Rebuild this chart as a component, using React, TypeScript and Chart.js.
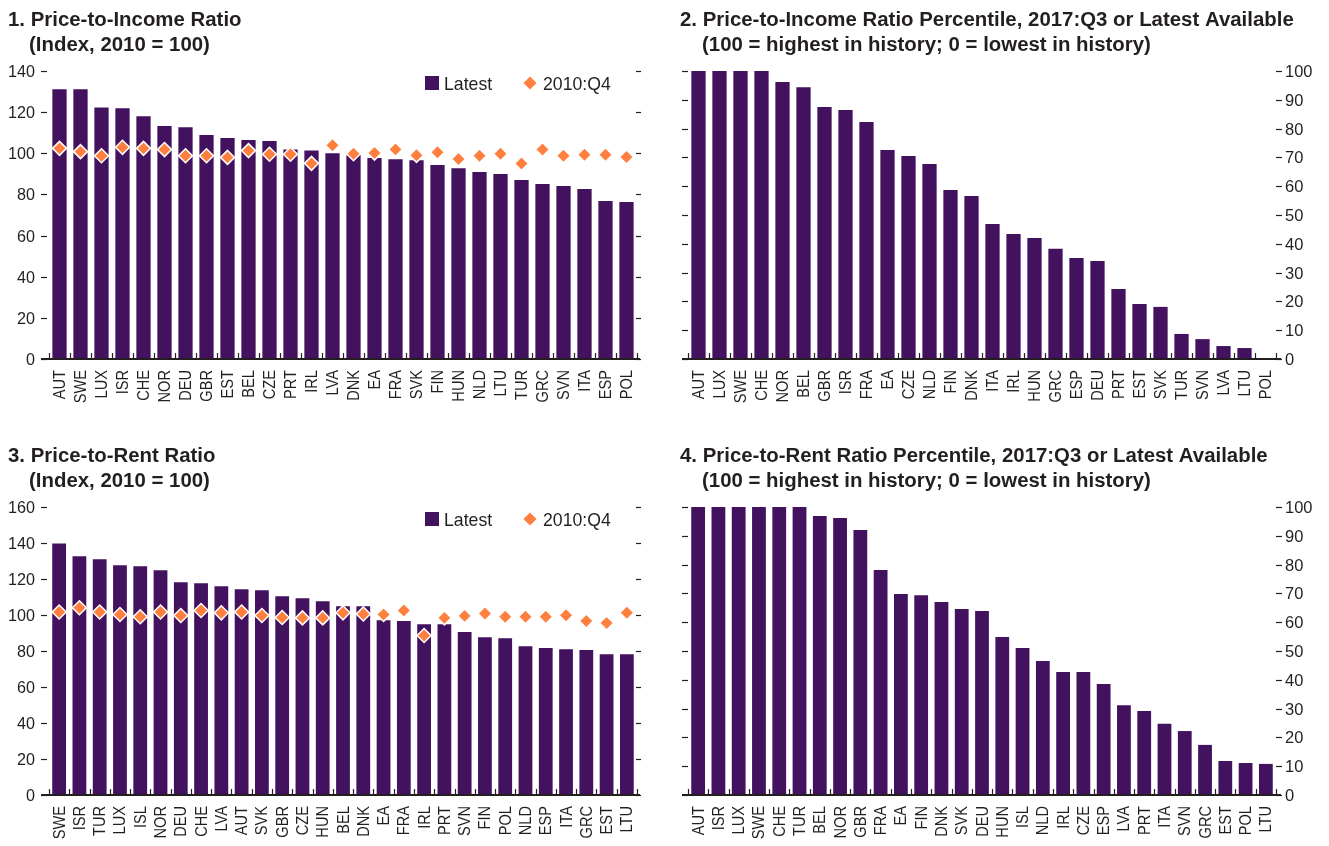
import React, { useEffect, useRef } from 'react';
import { Chart, registerables } from 'chart.js';

Chart.register(...registerables);

const FONT = "'Liberation Sans', Arial, 'DejaVu Sans', sans-serif";
const TEXT = '#231F20';
const PURPLE = '#43125F';
const ORANGE = '#FF7F3F';

// Panel 1: Price-to-Income Ratio (Index, 2010 = 100)
const p1Categories = ['AUT', 'SWE', 'LUX', 'ISR', 'CHE', 'NOR', 'DEU', 'GBR', 'EST', 'BEL', 'CZE', 'PRT', 'IRL', 'LVA', 'DNK', 'EA', 'FRA', 'SVK', 'FIN', 'HUN', 'NLD', 'LTU', 'TUR', 'GRC', 'SVN', 'ITA', 'ESP', 'POL'];
const p1Latest = [131.1, 131.1, 122.3, 121.9, 118.0, 113.3, 112.6, 108.9, 107.4, 106.5, 106.0, 101.9, 101.4, 100.0, 99.0, 97.7, 97.1, 96.6, 94.3, 92.7, 90.9, 89.9, 87.0, 85.1, 84.1, 82.6, 76.8, 76.3];
const p1Q4 = [102.4, 100.8, 98.8, 102.9, 102.4, 101.8, 98.8, 98.8, 98.0, 101.3, 99.5, 99.5, 95.1, 103.9, 99.8, 100.1, 101.9, 99.0, 100.5, 97.2, 98.8, 99.8, 95.0, 101.8, 98.8, 99.3, 99.3, 98.2];

// Panel 2: Price-to-Income Ratio Percentile
const p2Categories = ['AUT', 'LUX', 'SWE', 'CHE', 'NOR', 'BEL', 'GBR', 'ISR', 'FRA', 'EA', 'CZE', 'NLD', 'FIN', 'DNK', 'ITA', 'IRL', 'HUN', 'GRC', 'ESP', 'DEU', 'PRT', 'EST', 'SVK', 'TUR', 'SVN', 'LVA', 'LTU', 'POL'];
const p2Values = [100, 100, 100, 100, 96.2, 94.4, 87.5, 86.5, 82.3, 72.6, 70.5, 67.7, 58.7, 56.6, 46.9, 43.4, 42.0, 38.3, 35.1, 34.0, 24.3, 19.1, 18.1, 8.7, 6.9, 4.5, 3.8, 0];

// Panel 3: Price-to-Rent Ratio (Index, 2010 = 100)
const p3Categories = ['SWE', 'ISR', 'TUR', 'LUX', 'ISL', 'NOR', 'DEU', 'CHE', 'LVA', 'AUT', 'SVK', 'GBR', 'CZE', 'HUN', 'BEL', 'DNK', 'EA', 'FRA', 'IRL', 'PRT', 'SVN', 'FIN', 'POL', 'NLD', 'ESP', 'ITA', 'GRC', 'EST', 'LTU'];
const p3Latest = [139.7, 132.6, 131.0, 127.6, 127.1, 124.9, 118.2, 117.6, 116.0, 114.3, 113.8, 110.4, 109.3, 107.7, 104.9, 104.9, 97.1, 96.6, 94.9, 94.9, 90.5, 87.7, 87.1, 82.7, 81.6, 81.0, 80.5, 78.2, 78.2];
const p3Q4 = [101.7, 104.0, 101.7, 100.3, 99.0, 101.7, 99.7, 102.5, 101.2, 101.7, 99.7, 98.6, 98.4, 98.4, 101.2, 100.6, 100.3, 102.5, 88.6, 98.4, 99.5, 100.8, 99.0, 99.0, 99.0, 99.9, 96.7, 95.6, 101.2];

// Panel 4: Price-to-Rent Ratio Percentile
const p4Categories = ['AUT', 'ISR', 'LUX', 'SWE', 'CHE', 'TUR', 'BEL', 'NOR', 'GBR', 'FRA', 'EA', 'FIN', 'DNK', 'SVK', 'DEU', 'HUN', 'ISL', 'NLD', 'IRL', 'CZE', 'ESP', 'LVA', 'PRT', 'ITA', 'SVN', 'GRC', 'EST', 'POL', 'LTU'];
const p4Values = [100, 100, 100, 100, 100, 100, 96.9, 96.2, 92.0, 78.1, 69.8, 69.4, 67.0, 64.6, 63.9, 54.9, 51.0, 46.5, 42.7, 42.7, 38.5, 31.2, 29.2, 24.7, 22.2, 17.4, 11.8, 11.1, 10.8];

const legendLabels = ['Latest', '2010:Q4'];
const indexTicks = { p1Max: 140, p3Max: 160, step: 20 };
const pctTicks = { max: 100, step: 10 };

type Panel = {
  left: number; top: number; width: number; height: number;
  area: { l: number; r: number; t: number; b: number };
  title: [string, string];
  titleX: [number, number];
  labelSide: 'left' | 'right';
  categories: string[];
  bars: number[];
  diamonds?: number[];
  max: number; step: number;
  leftTick: [number, number];
  rightTick: [number, number];
  baseExt: [number, number];
};

const panels: Panel[] = [
  {
    left: 0, top: 0, width: 664, height: 436,
    area: { l: 49, r: 637, t: 71, b: 359 },
    title: ['1. Price-to-Income Ratio', '(Index, 2010 = 100)'], titleX: [8, 29],
    labelSide: 'left', categories: p1Categories, bars: p1Latest, diamonds: p1Q4,
    max: indexTicks.p1Max, step: indexTicks.step,
    leftTick: [-8, -2], rightTick: [-1, 4], baseExt: [-8, 3],
  },
  {
    left: 664, top: 0, width: 665, height: 436,
    area: { l: 24, r: 612, t: 71, b: 359 },
    title: ['2. Price-to-Income Ratio Percentile, 2017:Q3 or Latest Available', '(100 = highest in history; 0 = lowest in history)'], titleX: [16, 38],
    labelSide: 'right', categories: p2Categories, bars: p2Values,
    max: pctTicks.max, step: pctTicks.step,
    leftTick: [-6, 0], rightTick: [0, 6], baseExt: [-6, 5],
  },
  {
    left: 0, top: 436, width: 664, height: 410,
    area: { l: 49, r: 637, t: 71, b: 359 },
    title: ['3. Price-to-Rent Ratio', '(Index, 2010 = 100)'], titleX: [8, 29],
    labelSide: 'left', categories: p3Categories, bars: p3Latest, diamonds: p3Q4,
    max: indexTicks.p3Max, step: indexTicks.step,
    leftTick: [-8, -2], rightTick: [-1, 4], baseExt: [-8, 3],
  },
  {
    left: 664, top: 436, width: 665, height: 410,
    area: { l: 24, r: 612, t: 71, b: 359 },
    title: ['4. Price-to-Rent Ratio Percentile, 2017:Q3 or Latest Available', '(100 = highest in history; 0 = lowest in history)'], titleX: [16, 38],
    labelSide: 'right', categories: p4Categories, bars: p4Values,
    max: pctTicks.max, step: pctTicks.step,
    leftTick: [-6, 0], rightTick: [0, 6], baseExt: [-6, 5],
  },
];

function line(ctx: CanvasRenderingContext2D, x1: number, y1: number, x2: number, y2: number) {
  ctx.beginPath();
  ctx.moveTo(x1, y1);
  ctx.lineTo(x2, y2);
  ctx.stroke();
}

// Draw text with a horizontal scale factor (narrow face emulation)
function text(
  ctx: CanvasRenderingContext2D, s: string, x: number, y: number,
  font: string, sx: number, align: CanvasTextAlign, baseline: CanvasTextBaseline, rot = 0,
) {
  ctx.save();
  ctx.translate(x, y);
  if (rot) ctx.rotate(rot);
  ctx.scale(sx, 1);
  ctx.font = font;
  ctx.textAlign = align;
  ctx.textBaseline = baseline;
  ctx.fillStyle = TEXT;
  ctx.fillText(s, 0, 0);
  ctx.restore();
}

const TITLE_FONT = `bold 20px ${FONT}`;
const TICK_FONT = `17px ${FONT}`;
const CAT_FONT = `17px ${FONT}`;
const LEG_FONT = `19px ${FONT}`;

function makeDecor(p: Panel) {
  return {
    id: 'decor',
    afterDraw(chart: any) {
      const ctx: CanvasRenderingContext2D = chart.ctx;
      const { left: L, right: R, bottom: B } = chart.chartArea;
      const ys = chart.scales.y;
      const xs = chart.scales.x;
      ctx.save();
      ctx.strokeStyle = TEXT;
      // titles
      text(ctx, p.title[0], p.titleX[0], 26, TITLE_FONT, 1.02, 'left', 'alphabetic');
      text(ctx, p.title[1], p.titleX[1], 51, TITLE_FONT, 1.02, 'left', 'alphabetic');
      // y tick marks both sides + labels
      ctx.lineWidth = 1.2;
      for (let v = 0; v <= p.max; v += p.step) {
        const yp = ys.getPixelForValue(v);
        const y = Math.round(yp) + 0.5;
        line(ctx, L + p.leftTick[0], y, L + p.leftTick[1], y);
        line(ctx, R + p.rightTick[0], y, R + p.rightTick[1], y);
        if (p.labelSide === 'left') {
          text(ctx, String(v), L - 14, yp + 6, TICK_FONT, 0.95, 'right', 'alphabetic');
        } else {
          text(ctx, String(v), R + 9, yp + 6, TICK_FONT, 0.97, 'left', 'alphabetic');
        }
      }
      // category labels (rotated)
      p.categories.forEach((c, i) => {
        const cx = xs.getPixelForValue(i);
        text(ctx, c, cx + 5.5, B + 11, CAT_FONT, 0.86, 'right', 'alphabetic', -Math.PI / 2);
      });
      // category boundary ticks
      const n = p.categories.length;
      ctx.lineWidth = 1.2;
      for (let i = 0; i <= n; i++) {
        const x = Math.round(L + (i * (R - L)) / n) + 0.5;
        line(ctx, x, B, x, B - 6);
      }
      // baseline
      ctx.lineWidth = 1.8;
      line(ctx, L + p.baseExt[0], B, R + p.baseExt[1], B);
      // legend
      if (p.diamonds) {
        ctx.fillStyle = PURPLE;
        ctx.fillRect(425, 76, 14, 14);
        text(ctx, legendLabels[0], 444, 89.5, LEG_FONT, 0.93, 'left', 'alphabetic');
        ctx.fillStyle = ORANGE;
        ctx.beginPath();
        ctx.moveTo(530, 76.5);
        ctx.lineTo(536.5, 83);
        ctx.lineTo(530, 89.5);
        ctx.lineTo(523.5, 83);
        ctx.closePath();
        ctx.fill();
        text(ctx, legendLabels[1], 543, 89.5, LEG_FONT, 0.93, 'left', 'alphabetic');
      }
      ctx.restore();
    },
  };
}

function makeConfig(p: Panel): any {
  const leftW = 20;
  const rightW = 20;
  const xH = p.height - p.area.b - 6;
  const datasets: any[] = [
    {
      type: 'bar',
      data: p.bars,
      backgroundColor: PURPLE,
      barPercentage: 0.68,
      categoryPercentage: 1,
      order: 2,
    },
  ];
  if (p.diamonds) {
    datasets.push({
      type: 'line',
      data: p.diamonds,
      showLine: false,
      pointStyle: 'rectRot',
      pointRadius: 7,
      pointBackgroundColor: ORANGE,
      pointBorderColor: '#FFFFFF',
      pointBorderWidth: 1.5,
      order: 1,
    });
  }
  const hiddenAxis = (max: number, step: number, w: number, pos: string) => ({
    position: pos,
    min: 0,
    max,
    grid: { display: false, drawTicks: false },
    border: { display: false },
    ticks: { display: false, stepSize: step },
    afterFit: (s: any) => { s.width = w; },
  });
  return {
    type: 'bar',
    data: { labels: p.categories, datasets },
    options: {
      animation: false,
      responsive: false,
      maintainAspectRatio: false,
      devicePixelRatio: 1,
      layout: {
        padding: {
          left: p.area.l - leftW,
          right: p.width - p.area.r - rightW,
          top: p.area.t,
          bottom: p.height - p.area.b - xH,
        },
      },
      plugins: { legend: { display: false }, tooltip: { enabled: false }, title: { display: false } },
      scales: {
        x: {
          type: 'category',
          offset: true,
          grid: { display: false, drawTicks: false },
          border: { display: false },
          ticks: { display: false, autoSkip: false },
          afterFit: (s: any) => { s.height = xH; },
        },
        y: hiddenAxis(p.max, p.step, leftW, 'left'),
        y2: hiddenAxis(p.max, p.step, rightW, 'right'),
      },
    },
    plugins: [makeDecor(p)],
  };
}

function PanelChart({ p }: { p: Panel }) {
  const ref = useRef<HTMLCanvasElement | null>(null);
  useEffect(() => {
    if (!ref.current) return;
    const chart = new Chart(ref.current, makeConfig(p));
    return () => chart.destroy();
  }, [p]);
  return (
    <div style={{ position: 'absolute', left: p.left, top: p.top, width: p.width, height: p.height }}>
      <canvas ref={ref} width={p.width} height={p.height} style={{ width: p.width, height: p.height, display: 'block' }} />
    </div>
  );
}

export default function App() {
  return (
    <div style={{ position: 'absolute', left: 0, top: 0, width: 1329, height: 846, background: '#FFFFFF', overflow: 'hidden' }}>
      {panels.map((p, i) => (
        <PanelChart key={i} p={p} />
      ))}
    </div>
  );
}
